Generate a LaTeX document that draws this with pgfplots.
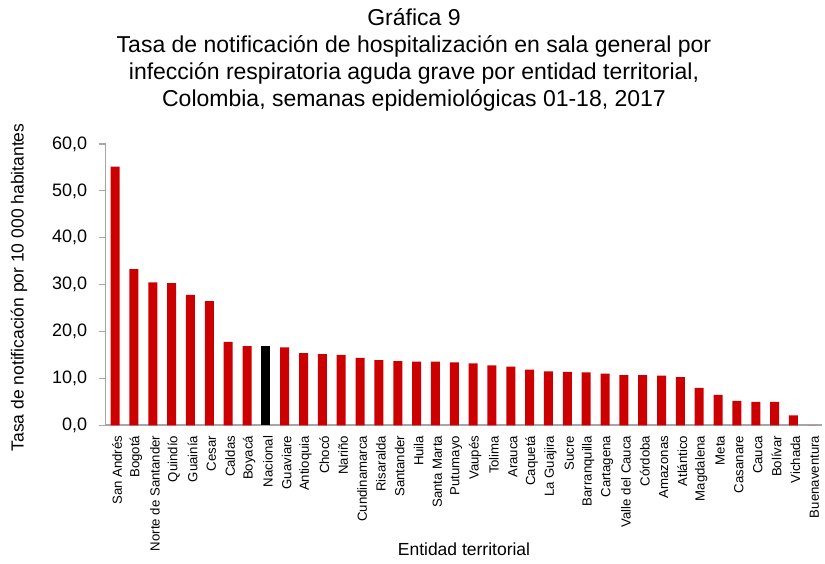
\documentclass[border=0pt]{standalone}
\usepackage{fontspec}
\setmainfont{Liberation Sans}
\usepackage{pgfplots}
\pgfplotsset{compat=1.18}
\definecolor{barred}{HTML}{CC0000}
\definecolor{axgray}{HTML}{A6A6A6}
\begin{document}
\begin{tikzpicture}[x=1bp,y=1bp]
\useasboundingbox (-105.7,-138.7) rectangle (719.3,425.3);
\begin{axis}[
  at={(0,0)}, anchor=south west,
  scale only axis, width=716bp, height=281.3bp,
  xmin=-0.5, xmax=37.5, ymin=0, ymax=60,
  ytick={0,10,...,60},
  xtick={0,...,37},
  xticklabels={San Andrés, Bogotá, Norte de Santander, Quindío, Guainía, Cesar, Caldas, Boyacá, Nacional, Guaviare, Antioquia, Chocó, Nariño, Cundinamarca, Risaralda, Santander, Huila, Santa Marta, Putumayo, Vaupés, Tolima, Arauca, Caquetá, La Guajira, Sucre, Barranquilla, Cartagena, Valle del Cauca, Córdoba, Amazonas, Atlántico, Magdalena, Meta, Casanare, Cauca, Bolívar, Vichada, Buenaventura},
  axis x line*=bottom, axis y line*=left,
  x axis line style={-, draw=axgray, line width=2bp},
  y axis line style={-, draw=axgray, line width=1.5bp},
  xtick style={draw=none},
  ytick style={draw=axgray, line width=1.2bp},
  tick align=outside, major tick length=7bp,
  /pgf/number format/assume math mode=true,
  yticklabel={\pgfmathprintnumber[fixed,fixed zerofill,precision=1,use comma]{\tick}},
  yticklabel style={font=\fontsize{18bp}{20bp}\selectfont, xshift=-8bp},
  xticklabel style={rotate=90, anchor=east, font=\fontsize{13.2bp}{15bp}\selectfont, yshift=-2bp},
]
\addplot[ybar, bar width=9bp, bar shift=0pt, fill=barred, draw=none] coordinates {
(0,55.2) (1,33.3) (2,30.5) (3,30.3) (4,27.8) (5,26.5) (6,17.8) (7,16.9)
(9,16.6) (10,15.4) (11,15.2) (12,15.0) (13,14.4) (14,13.9) (15,13.7) (16,13.6)
(17,13.6) (18,13.4) (19,13.2) (20,12.8) (21,12.5) (22,11.9) (23,11.5) (24,11.4)
(25,11.3) (26,11.0) (27,10.7) (28,10.7) (29,10.6) (30,10.3) (31,8.0) (32,6.5)
(33,5.2) (34,5.0) (35,5.0) (36,2.1) (37,0)
};
\addplot[ybar, bar width=9bp, bar shift=0pt, fill=black, draw=none] coordinates {(8,16.9)};
\end{axis}
\begin{scope}[every node/.style={font=\fontsize{23bp}{27bp}\selectfont, anchor=base, inner sep=0pt}]
\node at (308.3,399.3) {Gráfica 9};
\node at (308.3,372.3) {Tasa de notificación de hospitalización en sala general por};
\node at (308.3,345.3) {infección respiratoria aguda grave por entidad territorial,};
\node at (308.3,318.3) {Colombia, semanas epidemiológicas 01-18, 2017};
\end{scope}
\node[rotate=90, font=\fontsize{17.5bp}{20bp}\selectfont, inner sep=0pt] at (-86.7,137.8) {Tasa de notificación por 10 000 habitantes};
\node[anchor=base, font=\fontsize{17.5bp}{20bp}\selectfont, inner sep=0pt] at (358.3,-130.7) {Entidad territorial};
\end{tikzpicture}
\end{document}
